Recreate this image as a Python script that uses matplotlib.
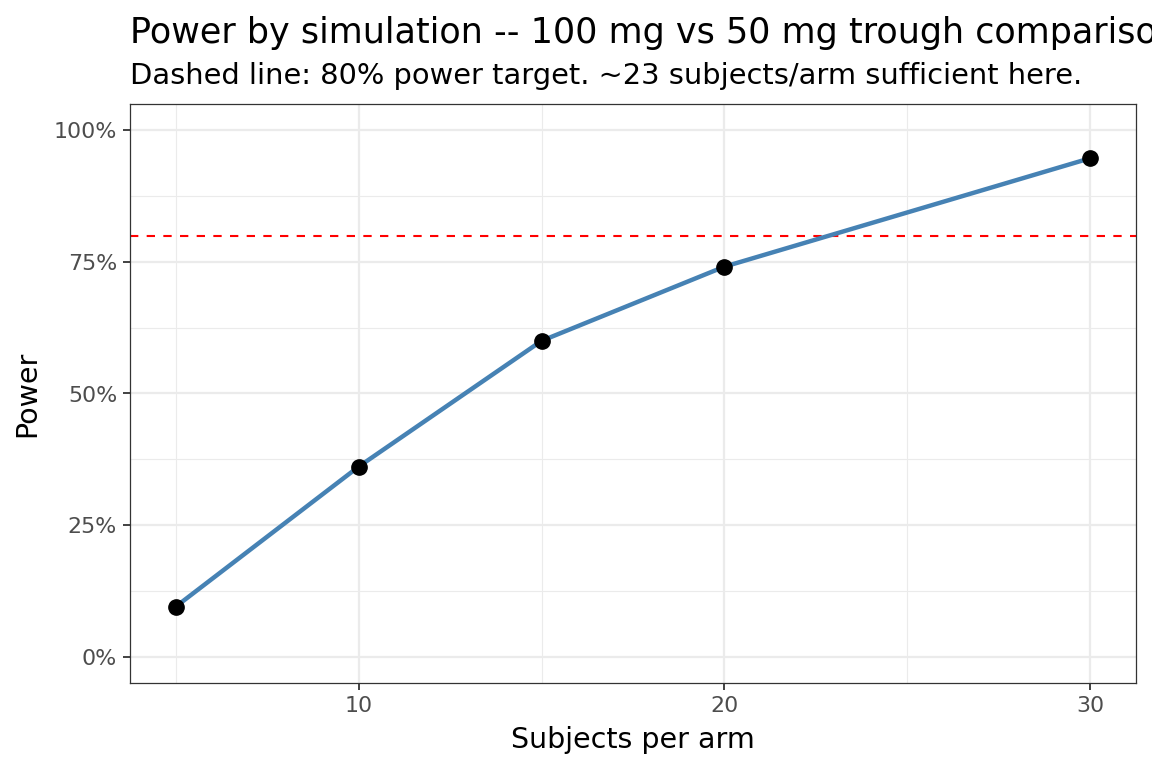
import numpy as np
import matplotlib.pyplot as plt
from matplotlib.ticker import FixedLocator, FuncFormatter

# simulated power per sample size
subjects = [5, 10, 15, 20, 30]
power = [0.095, 0.361, 0.600, 0.741, 0.947]
target = 0.80

title = 'Power by simulation -- 100 mg vs 50 mg trough comparison'
subtitle = 'Dashed line: 80% power target. ~23 subjects/arm sufficient here.'

plt.rcParams['font.family'] = ['DejaVu Sans']

fig = plt.figure(figsize=(11.52, 7.68), dpi=100)
ax = fig.add_axes([130/1152, 1 - 683/768, (1136 - 130)/1152, (683 - 104)/768])

ax.set_xlim(3.75, 31.25)
ax.set_ylim(-0.05, 1.05)

# ggplot-ish grid
ax.xaxis.set_major_locator(FixedLocator([10, 20, 30]))
ax.xaxis.set_minor_locator(FixedLocator([5, 15, 25]))
ax.yaxis.set_major_locator(FixedLocator([0, 0.25, 0.5, 0.75, 1.0]))
ax.yaxis.set_minor_locator(FixedLocator([0.125, 0.375, 0.625, 0.875]))
ax.yaxis.set_major_formatter(FuncFormatter(lambda v, p: f'{v*100:.0f}%'))
ax.grid(which='major', color='#EBEBEB', lw=1.6, zorder=0)
ax.grid(which='minor', color='#EBEBEB', lw=0.8, zorder=0)
ax.set_axisbelow(True)

ax.axhline(target, color='red', lw=1.5, ls=(0, (4, 4)), zorder=2)
ax.plot(subjects, power, color='steelblue', lw=3.2, zorder=3, solid_capstyle='butt')
ax.plot(subjects, power, 'o', color='black', ms=11, zorder=4)

for s in ax.spines.values():
    s.set_color('#333333')
    s.set_linewidth(0.9)

ax.tick_params(which='major', length=5.3, width=1.3, color='#333333',
               labelsize=15.9, labelcolor='#4D4D4D', pad=4)
ax.tick_params(which='minor', length=0)

ax.set_xlabel('Subjects per arm', fontsize=20.5, labelpad=7)
ax.set_ylabel('Power', fontsize=20.5, labelpad=9)

fig.text(130/1152, 1 - 43/768, title, fontsize=25.2, ha='left', va='baseline')
fig.text(130/1152, 1 - 84/768, subtitle, fontsize=20.8, ha='left', va='baseline')

fig.savefig('out.png', dpi=100)
